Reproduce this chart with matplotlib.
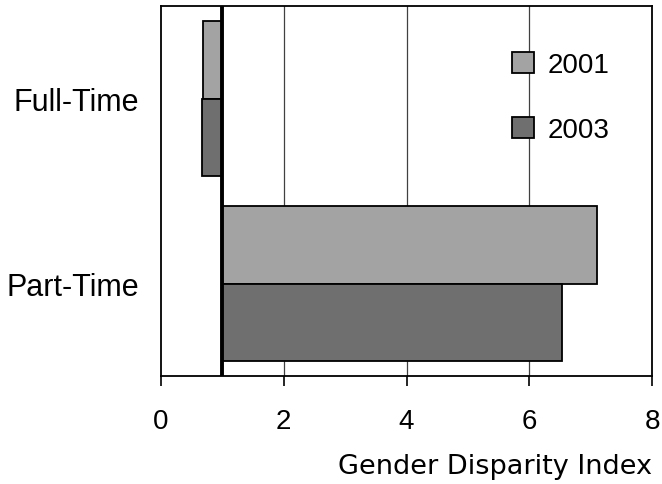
import matplotlib.pyplot as plt
import numpy as np

categories = ['Full-Time', 'Part-Time']
years = ['2001', '2003']
gdi_2001 = [0.69, 7.11]
gdi_2003 = [0.67, 6.54]
baseline = 1.0
xticks = [0, 2, 4, 6, 8]

colors = ['#a3a3a3', '#6f6f6f']
font = ['Liberation Sans', 'DejaVu Sans']


def main():
    fig = plt.figure(figsize=(6.62, 4.85), dpi=100)
    ax = fig.add_axes([161 / 662, 1 - 377 / 485, (652 - 161) / 662, (377 - 7) / 485])

    y = np.arange(len(categories))
    h = 0.42
    for i, (vals, yr) in enumerate(zip([gdi_2001, gdi_2003], years)):
        widths = [v - baseline for v in vals]
        ax.barh(y - h / 2 + i * h, widths, height=h, left=baseline,
                color=colors[i], edgecolor='black', linewidth=1.3,
                label=yr, zorder=3)

    ax.axvline(baseline, color='black', linewidth=2.8, zorder=4)
    for gx in xticks[1:-1]:
        ax.axvline(gx, color='#404040', linewidth=0.9, zorder=1)

    ax.set_xlim(0, 8)
    ax.set_ylim(1.5, -0.5)
    ax.set_xticks(xticks)
    ax.set_xticklabels([str(t) for t in xticks], family=font, fontsize=20)
    ax.set_yticks(y)
    ax.set_yticklabels(categories, family=font, fontsize=22)
    ax.tick_params(axis='y', length=0, pad=16)
    ax.tick_params(axis='x', length=7, width=1.2, direction='out', pad=16)

    for s in ax.spines.values():
        s.set_linewidth(1.3)

    ax.set_xlabel('Gender Disparity Index', fontsize=19.5,
                  loc='right', labelpad=14)

    ax.legend(loc='upper left', bbox_to_anchor=(512 / 662, 1 - 53 / 485),
              bbox_transform=fig.transFigure, frameon=False,
              handlelength=0.8, handleheight=0.8, handletextpad=0.5,
              labelspacing=1.4, borderpad=0, borderaxespad=0,
              prop={'family': font, 'size': 20})

    fig.savefig('out.png', dpi=100)


if __name__ == '__main__':
    main()
